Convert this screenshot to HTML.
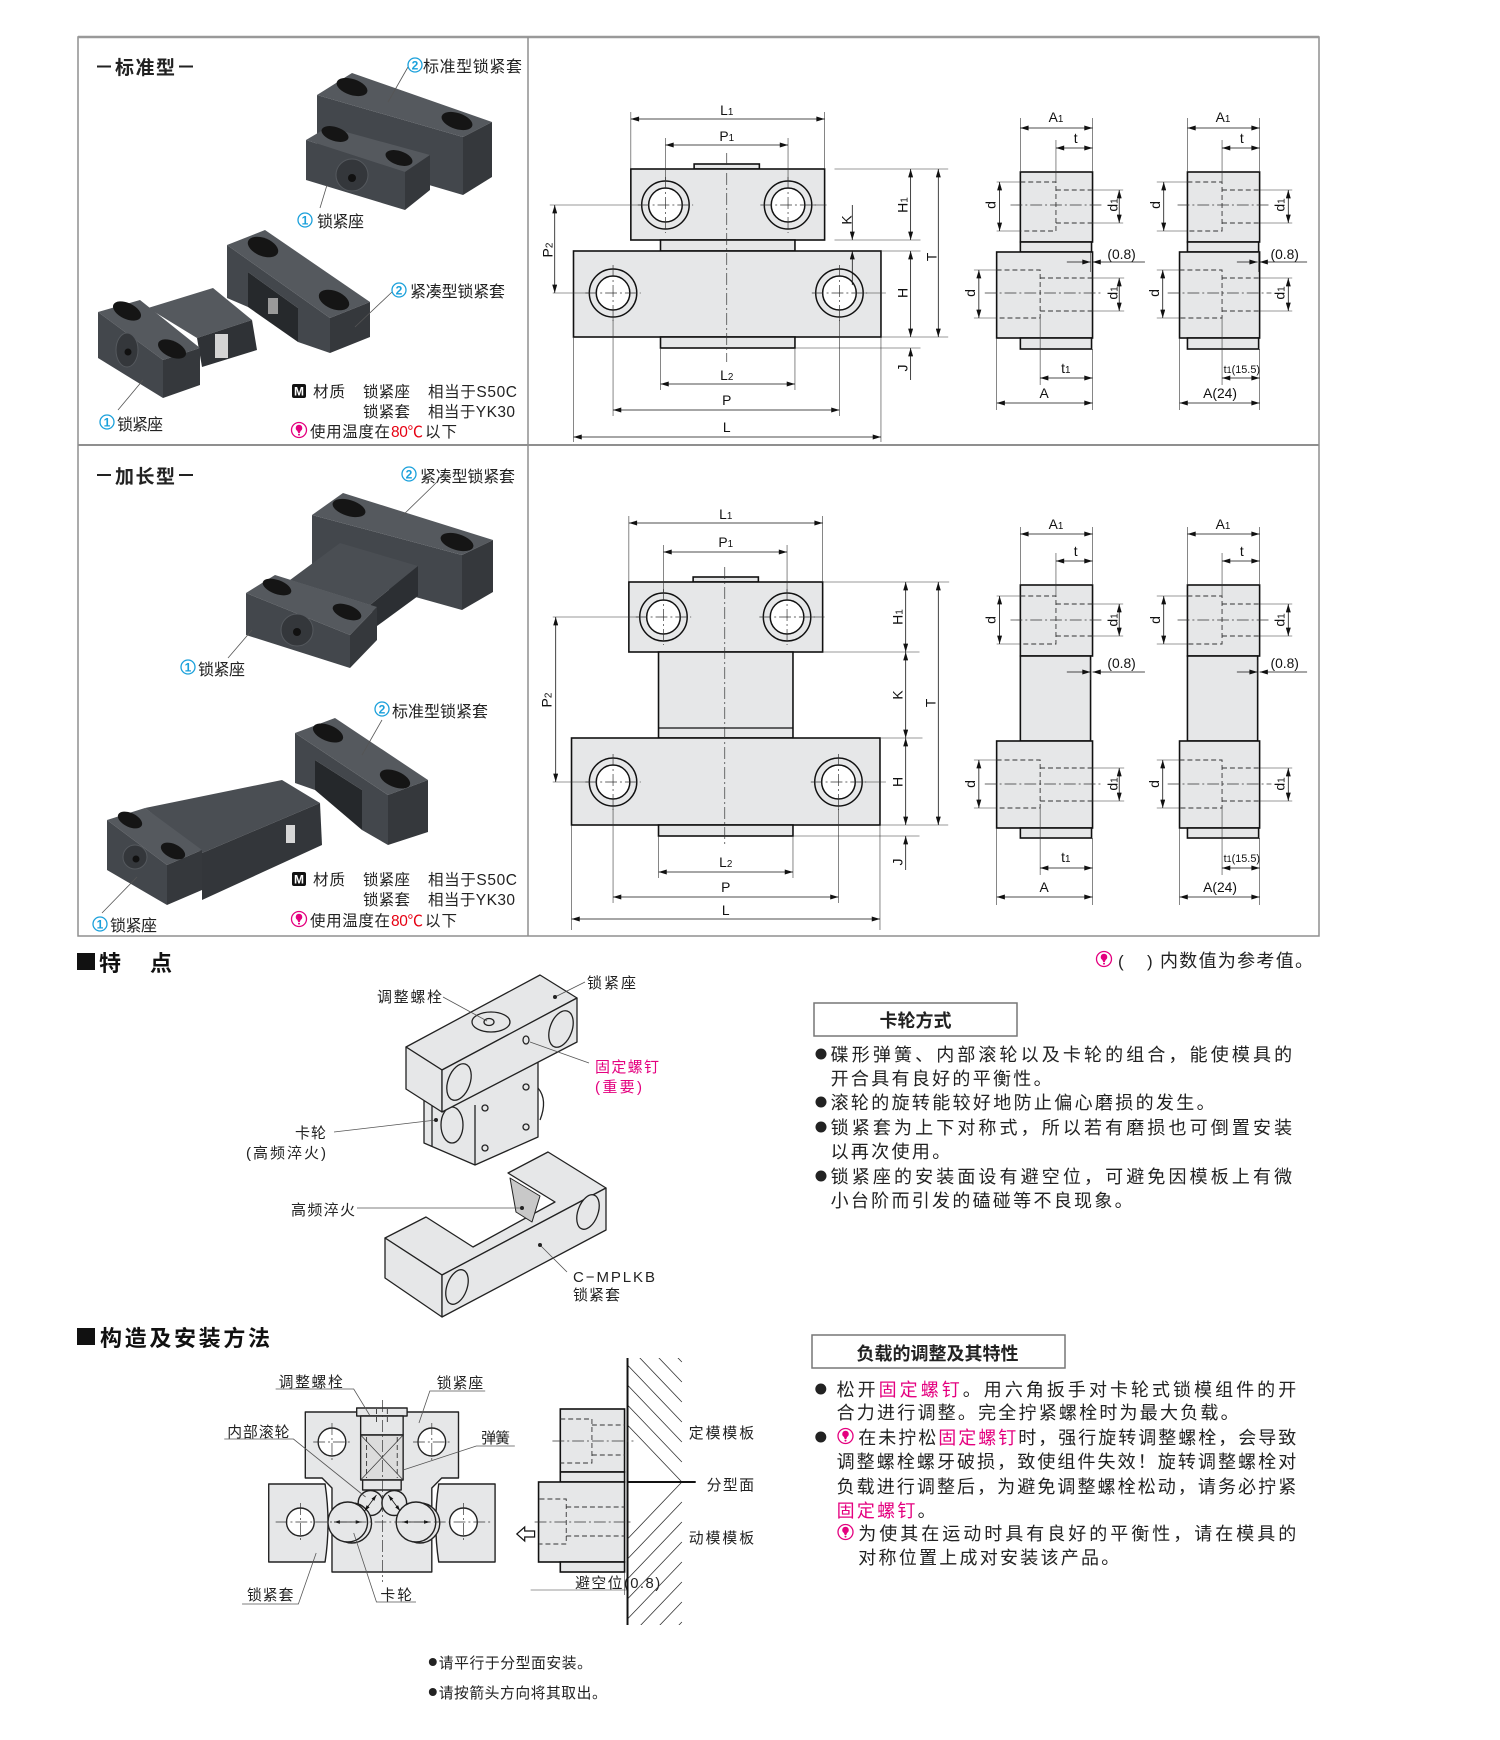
<!DOCTYPE html>
<html><head><meta charset="utf-8">
<style>
html,body{margin:0;padding:0;background:#fff;}
body{width:1500px;height:1740px;overflow:hidden;}
svg{display:block;}
.f{font-family:"Liberation Sans","Noto Sans CJK SC",sans-serif;}
.lb{font-family:"Liberation Sans",sans-serif;font-size:14px;fill:#111;}
.o{fill:#e6e7e8;stroke:#111;stroke-width:1.6;}
.d{stroke:#111;stroke-width:0.8;fill:none;}
.e{stroke:#333;stroke-width:0.6;fill:none;}
.c{stroke:#333;stroke-width:0.7;stroke-dasharray:12 3 2 3;fill:none;}
.h{stroke:#333;stroke-width:0.9;stroke-dasharray:5 3;fill:none;}
.ld{stroke:#555;stroke-width:0.8;fill:none;}
.pt{fill:#55595e;}
.pf{fill:#43474c;}
.pr{fill:#35383c;}
.ph{fill:#151515;}
</style></head>
<body>
<svg width="1500" height="1740" viewBox="0 0 1500 1740" xmlns="http://www.w3.org/2000/svg">
<defs>
<marker id="ar" viewBox="0 0 10 6" refX="10" refY="3" markerWidth="9" markerHeight="5" orient="auto-start-reverse" markerUnits="userSpaceOnUse"><path d="M0,0 L10,3 L0,6z" fill="#111"/></marker>
<marker id="as" viewBox="0 0 10 6" refX="10" refY="3" markerWidth="6" markerHeight="4" orient="auto-start-reverse" markerUnits="userSpaceOnUse"><path d="M0,0 L10,3 L0,6z" fill="#111"/></marker>
<g id="hole"><circle r="24" fill="#e6e7e8" stroke="#111" stroke-width="1.5"/><circle r="17" fill="#fff" stroke="#111" stroke-width="1.5"/><line x1="-28" y1="0" x2="28" y2="0" class="c"/><line x1="0" y1="-28" x2="0" y2="28" class="c"/></g>
<g id="wi"><circle r="7.5" fill="#fff" stroke="#e4007f" stroke-width="1.3"/><circle cy="-2" r="3.3" fill="#e4007f"/><path d="M-2.2,-0.5 L2.2,-0.5 L0.8,3 L-0.8,3Z" fill="#e4007f"/><circle cy="4.6" r="1" fill="#e4007f"/></g>
<g id="n1"><circle r="7" fill="#fff" stroke="#1aa0db" stroke-width="1.3"/><text y="4.5" text-anchor="middle" font-family="Liberation Sans" font-size="12" font-weight="bold" fill="#1aa0db">1</text></g>
<g id="n2"><circle r="7" fill="#fff" stroke="#1aa0db" stroke-width="1.3"/><text y="4.5" text-anchor="middle" font-family="Liberation Sans" font-size="12" font-weight="bold" fill="#1aa0db">2</text></g>
<g id="mi"><rect x="0" y="0" width="14" height="14" rx="2" fill="#111"/><text x="7" y="11.5" text-anchor="middle" font-family="Liberation Sans" font-size="12" font-weight="bold" fill="#fff">M</text></g>
<clipPath id="cu"><rect x="635" y="1358" width="55" height="124"/></clipPath>
<clipPath id="cl"><rect x="635" y="1482" width="55" height="143"/></clipPath>
</defs>

<!-- ============ TABLE ============ -->
<rect x="78" y="37" width="1241" height="899" fill="none" stroke="#8f8f8f" stroke-width="1.5"/>
<line x1="78" y1="37" x2="1319" y2="37" stroke="#999" stroke-width="2.5"/>
<line x1="528" y1="37" x2="528" y2="936" stroke="#8f8f8f" stroke-width="1.5"/>
<line x1="78" y1="445" x2="1319" y2="445" stroke="#8f8f8f" stroke-width="2"/>

<!-- ============ ROW 1 LEFT ============ -->
<line x1="97" y1="66.5" x2="111" y2="66.5" stroke="#222" stroke-width="2"/>
<line x1="179" y1="66.5" x2="193" y2="66.5" stroke="#222" stroke-width="2"/>
<text class="f" x="115" y="74" font-size="19" font-weight="bold" fill="#222" textLength="60" lengthAdjust="spacing">标准型</text>

<polygon class="pf" points="317,95 463,137 463,195 317,152"/>
<polygon class="pt" points="317,95 352,73 492,122 463,137"/>
<polygon class="pr" points="463,137 492,122 492,177 463,195"/>
<ellipse cx="352" cy="87" rx="16" ry="8" class="ph" transform="rotate(18 352 87)"/>
<ellipse cx="457" cy="121" rx="16" ry="8" class="ph" transform="rotate(18 457 121)"/>
<polygon class="pt" points="306,140 328,127 430,155 405,172"/>
<polygon class="pf" points="306,140 405,172 405,210 306,180"/>
<polygon class="pr" points="405,172 430,155 430,190 405,210"/>
<ellipse cx="335" cy="134" rx="14" ry="7" class="ph" transform="rotate(18 335 134)"/>
<ellipse cx="399" cy="158" rx="14" ry="7" class="ph" transform="rotate(18 399 158)"/>
<circle cx="352" cy="175" r="16" fill="#34373b" stroke="#55595e" stroke-width="1"/>
<circle cx="352" cy="178" r="4" fill="#111"/>
<line x1="408" y1="67" x2="388" y2="102" class="ld"/>
<line x1="320" y1="208" x2="327" y2="185" class="ld"/>
<use href="#n2" x="415" y="65"/>
<text class="f" x="423" y="72" font-size="16" fill="#222" textLength="99" lengthAdjust="spacing">标准型锁紧套</text>
<use href="#n1" x="305" y="220"/>
<text class="f" x="317" y="227" font-size="16" fill="#222" textLength="47" lengthAdjust="spacing">锁紧座</text>

<!-- lower photo row1: U block -->
<polygon class="pf" points="227,245 330,318 330,353 298,342 298,308 248,272 248,307 227,298"/>
<polygon fill="#26292c" points="248,272 298,308 298,342 248,307"/>
<rect x="268" y="298" width="10" height="16" fill="#9a9a9a"/>
<polygon class="pt" points="227,245 265,230 370,302 330,318"/>
<polygon class="pr" points="330,318 370,302 370,337 330,353"/>
<ellipse cx="263" cy="247" rx="16" ry="9" class="ph" transform="rotate(22 263 247)"/>
<ellipse cx="334" cy="300" rx="16" ry="9" class="ph" transform="rotate(22 334 300)"/>
<!-- housing -->
<polygon class="pt" points="148,308 213,288 252,320 197,338"/>
<polygon fill="#2f3236" points="197,338 252,320 257,350 202,367"/>
<rect x="215" y="334" width="13" height="24" fill="#d4d4d4"/>
<!-- cube -->
<polygon class="pt" points="98,312 140,300 200,348 163,360"/>
<polygon class="pf" points="98,312 163,360 163,398 98,358"/>
<polygon class="pr" points="163,360 200,348 200,385 163,398"/>
<ellipse cx="127" cy="311" rx="15" ry="8" class="ph" transform="rotate(25 127 311)"/>
<ellipse cx="172" cy="349" rx="15" ry="8" class="ph" transform="rotate(25 172 349)"/>
<ellipse cx="127" cy="350" rx="11" ry="17" fill="#34373b" stroke="#55595e" stroke-width="1"/>
<circle cx="128" cy="352" r="3.5" fill="#111"/>
<line x1="392" y1="292" x2="355" y2="327" class="ld"/>
<line x1="118" y1="410" x2="143" y2="380" class="ld"/>
<use href="#n2" x="399" y="290"/>
<text class="f" x="410" y="297" font-size="16" fill="#222" textLength="95" lengthAdjust="spacing">紧凑型锁紧套</text>
<use href="#n1" x="107" y="422"/>
<text class="f" x="117" y="430" font-size="16" fill="#222" textLength="46" lengthAdjust="spacing">锁紧座</text>

<use href="#mi" x="292" y="384"/>
<g class="f" font-size="15.5" fill="#222">
<text x="313" y="397" textLength="32" lengthAdjust="spacing">材质</text>
<text x="363" y="397" textLength="47" lengthAdjust="spacing">锁紧座</text>
<text x="428" y="397" textLength="89" lengthAdjust="spacing">相当于S50C</text>
<text x="363" y="417" textLength="47" lengthAdjust="spacing">锁紧套</text>
<text x="428" y="417" textLength="87" lengthAdjust="spacing">相当于YK30</text>
<text x="310" y="437" textLength="80" lengthAdjust="spacing">使用温度在</text>
<text x="391" y="437" fill="#e60012" textLength="32" lengthAdjust="spacing">80℃</text>
<text x="425" y="437" textLength="32" lengthAdjust="spacing">以下</text>
</g>
<use href="#wi" x="299" y="430"/>

<!-- ============ RIGHT DRAWINGS (scaled) ============ -->
<g transform="matrix(0.98864,0,0,1,6.02,0)">
<!-- ROW 1 -->
<rect class="o" x="696" y="164" width="66" height="5"/>
<rect class="o" x="632" y="169" width="196" height="71"/>
<rect class="o" x="662" y="240" width="136" height="11"/>
<rect class="o" x="574" y="251" width="311" height="86"/>
<rect class="o" x="662" y="337" width="136" height="11"/>
<use href="#hole" x="667" y="205"/>
<use href="#hole" x="791" y="205"/>
<use href="#hole" x="614" y="293"/>
<use href="#hole" x="843" y="293"/>
<line class="c" x1="729" y1="153" x2="729" y2="362"/>
<g class="e">
<line x1="632" y1="112" x2="632" y2="169"/><line x1="828" y1="112" x2="828" y2="169"/>
<line x1="667" y1="138" x2="667" y2="181"/><line x1="791" y1="138" x2="791" y2="181"/>
<line x1="838" y1="169" x2="953" y2="169"/><line x1="838" y1="240" x2="925" y2="240"/>
<line x1="885" y1="251" x2="925" y2="251"/><line x1="885" y1="337" x2="953" y2="337"/>
<line x1="798" y1="348" x2="925" y2="348"/>
<line x1="574" y1="337" x2="574" y2="442"/><line x1="885" y1="337" x2="885" y2="442"/>
<line x1="614" y1="317" x2="614" y2="416"/><line x1="843" y1="317" x2="843" y2="416"/>
<line x1="662" y1="348" x2="662" y2="390"/><line x1="798" y1="348" x2="798" y2="390"/>
<line x1="550" y1="205" x2="643" y2="205"/><line x1="553" y1="293" x2="590" y2="293"/>
<line x1="815" y1="205" x2="830" y2="205"/><line x1="867" y1="293" x2="890" y2="293"/>
</g>
<g class="d">
<line x1="632" y1="119" x2="828" y2="119" marker-start="url(#ar)" marker-end="url(#ar)"/>
<line x1="667" y1="145" x2="791" y2="145" marker-start="url(#ar)" marker-end="url(#ar)"/>
<line x1="662" y1="384" x2="798" y2="384" marker-start="url(#ar)" marker-end="url(#ar)"/>
<line x1="614" y1="410" x2="843" y2="410" marker-start="url(#ar)" marker-end="url(#ar)"/>
<line x1="574" y1="437" x2="885" y2="437" marker-start="url(#ar)" marker-end="url(#ar)"/>
<line x1="555" y1="205" x2="555" y2="293" marker-start="url(#ar)" marker-end="url(#ar)"/>
<line x1="915" y1="169" x2="915" y2="240" marker-start="url(#ar)" marker-end="url(#ar)"/>
<line x1="943" y1="169" x2="943" y2="337" marker-start="url(#ar)" marker-end="url(#ar)"/>
<line x1="856" y1="205" x2="856" y2="240" marker-end="url(#ar)"/>
<line x1="856" y1="251" x2="856" y2="285" marker-start="url(#ar)"/>
<line x1="915" y1="251" x2="915" y2="337" marker-start="url(#ar)" marker-end="url(#ar)"/>
<line x1="915" y1="348" x2="915" y2="380" marker-start="url(#ar)"/>
</g>
<g class="lb" text-anchor="middle">
<text x="729" y="115">L<tspan font-size="10">1</tspan></text>
<text x="729" y="141">P<tspan font-size="10">1</tspan></text>
<text x="729" y="380">L<tspan font-size="10">2</tspan></text>
<text x="729" y="405">P</text>
<text x="729" y="432">L</text>
<text transform="translate(553,250) rotate(-90)">P<tspan font-size="10">2</tspan></text>
<text transform="translate(912,205) rotate(-90)">H<tspan font-size="10">1</tspan></text>
<text transform="translate(941,257) rotate(-90)">T</text>
<text transform="translate(855,220) rotate(-90)">K</text>
<text transform="translate(912,293) rotate(-90)">H</text>
<text transform="translate(912,368) rotate(-90)">J</text>
</g>

<rect class="o" x="1026" y="172" width="73" height="70"/>
<rect class="o" x="1026" y="242" width="72" height="10"/>
<rect class="o" x="1002" y="252" width="97" height="86"/>
<rect class="o" x="1026" y="338" width="72" height="11"/>
<path class="h" d="M1026,182 H1062 V231 H1026 M1062,190 H1099 M1062,223 H1099 M1002,270 H1046 V318 H1002 M1046,278 H1099 M1046,311 H1099"/>
<line class="c" x1="1016" y1="205" x2="1110" y2="205"/><line class="c" x1="990" y1="293" x2="1110" y2="293"/>
<g class="e">
<line x1="1002" y1="182" x2="1026" y2="182"/><line x1="1002" y1="231" x2="1026" y2="231"/>
<line x1="1099" y1="190" x2="1130" y2="190"/><line x1="1099" y1="223" x2="1130" y2="223"/>
<line x1="979" y1="270" x2="1002" y2="270"/><line x1="979" y1="318" x2="1002" y2="318"/>
<line x1="1099" y1="278" x2="1131" y2="278"/><line x1="1099" y1="311" x2="1131" y2="311"/>
<line x1="1026" y1="118" x2="1026" y2="172"/><line x1="1099" y1="118" x2="1099" y2="172"/>
<line x1="1062" y1="140" x2="1062" y2="182"/>
<line x1="1097" y1="252" x2="1097" y2="272"/>
<line x1="1002" y1="338" x2="1002" y2="410"/><line x1="1046" y1="318" x2="1046" y2="385"/><line x1="1099" y1="349" x2="1099" y2="410"/>
</g>
<g class="d">
<line x1="1005" y1="182" x2="1005" y2="231" marker-start="url(#ar)" marker-end="url(#ar)"/>
<line x1="1126" y1="190" x2="1126" y2="223" marker-start="url(#ar)" marker-end="url(#ar)"/>
<line x1="984" y1="270" x2="984" y2="318" marker-start="url(#ar)" marker-end="url(#ar)"/>
<line x1="1126" y1="278" x2="1126" y2="311" marker-start="url(#ar)" marker-end="url(#ar)"/>
<line x1="1026" y1="128" x2="1099" y2="128" marker-start="url(#ar)" marker-end="url(#ar)"/>
<line x1="1062" y1="148" x2="1099" y2="148" marker-start="url(#ar)" marker-end="url(#ar)"/>
<line x1="1152" y1="262" x2="1099" y2="262" marker-end="url(#ar)"/>
<line x1="1073" y1="262" x2="1097" y2="262" marker-end="url(#ar)"/>
<line x1="1046" y1="378" x2="1099" y2="378" marker-start="url(#ar)" marker-end="url(#ar)"/>
<line x1="1002" y1="403" x2="1099" y2="403" marker-start="url(#ar)" marker-end="url(#ar)"/>
</g>
<rect class="o" x="1195" y="172" width="73" height="70"/>
<rect class="o" x="1195" y="242" width="72" height="10"/>
<rect class="o" x="1187" y="252" width="81" height="86"/>
<rect class="o" x="1195" y="338" width="72" height="11"/>
<path class="h" d="M1195,182 H1230 V231 H1195 M1230,190 H1268 M1230,223 H1268 M1187,270 H1230 V318 H1187 M1230,278 H1268 M1230,311 H1268"/>
<line class="c" x1="1185" y1="205" x2="1280" y2="205"/><line class="c" x1="1175" y1="293" x2="1280" y2="293"/>
<g class="e">
<line x1="1164" y1="182" x2="1195" y2="182"/><line x1="1164" y1="231" x2="1195" y2="231"/>
<line x1="1268" y1="190" x2="1301" y2="190"/><line x1="1268" y1="223" x2="1301" y2="223"/>
<line x1="1164" y1="270" x2="1187" y2="270"/><line x1="1164" y1="318" x2="1187" y2="318"/>
<line x1="1268" y1="278" x2="1301" y2="278"/><line x1="1268" y1="311" x2="1301" y2="311"/>
<line x1="1195" y1="118" x2="1195" y2="172"/><line x1="1268" y1="118" x2="1268" y2="172"/>
<line x1="1230" y1="140" x2="1230" y2="182"/>
<line x1="1267" y1="252" x2="1267" y2="272"/>
<line x1="1187" y1="338" x2="1187" y2="410"/><line x1="1230" y1="318" x2="1230" y2="385"/><line x1="1268" y1="349" x2="1268" y2="410"/>
</g>
<g class="d">
<line x1="1171" y1="182" x2="1171" y2="231" marker-start="url(#ar)" marker-end="url(#ar)"/>
<line x1="1297" y1="190" x2="1297" y2="223" marker-start="url(#ar)" marker-end="url(#ar)"/>
<line x1="1170" y1="270" x2="1170" y2="318" marker-start="url(#ar)" marker-end="url(#ar)"/>
<line x1="1297" y1="278" x2="1297" y2="311" marker-start="url(#ar)" marker-end="url(#ar)"/>
<line x1="1195" y1="128" x2="1268" y2="128" marker-start="url(#ar)" marker-end="url(#ar)"/>
<line x1="1230" y1="148" x2="1268" y2="148" marker-start="url(#ar)" marker-end="url(#ar)"/>
<line x1="1316" y1="262" x2="1268" y2="262" marker-end="url(#ar)"/>
<line x1="1245" y1="262" x2="1266" y2="262" marker-end="url(#ar)"/>
<line x1="1230" y1="378" x2="1268" y2="378" marker-start="url(#ar)" marker-end="url(#ar)"/>
<line x1="1187" y1="403" x2="1268" y2="403" marker-start="url(#ar)" marker-end="url(#ar)"/>
</g>
<g class="lb" text-anchor="middle">
<text x="1062" y="122">A<tspan font-size="10">1</tspan></text>
<text x="1082" y="143">t</text>
<text x="1072" y="373">t<tspan font-size="10">1</tspan></text>
<text x="1050" y="398">A</text>
<text x="1231" y="122">A<tspan font-size="10">1</tspan></text>
<text x="1250" y="143">t</text>
<text x="1250" y="373" font-size="11">t<tspan font-size="9">1</tspan>(15.5)</text>
<text x="1228" y="398">A(24)</text>
<text transform="translate(1001,205) rotate(-90)">d</text>
<text transform="translate(1124,205) rotate(-90)">d<tspan font-size="10">1</tspan></text>
<text transform="translate(980,293) rotate(-90)">d</text>
<text transform="translate(1124,293) rotate(-90)">d<tspan font-size="10">1</tspan></text>
<text transform="translate(1167,205) rotate(-90)">d</text>
<text transform="translate(1293,205) rotate(-90)">d<tspan font-size="10">1</tspan></text>
<text transform="translate(1166,293) rotate(-90)">d</text>
<text transform="translate(1293,293) rotate(-90)">d<tspan font-size="10">1</tspan></text>
</g>
<text class="lb" x="1114" y="259">(0.8)</text>
<text class="lb" x="1279" y="259">(0.8)</text>

<!-- ROW 2 -->
<rect class="o" x="695" y="577" width="66" height="5"/>
<rect class="o" x="630" y="582" width="196" height="70"/>
<rect class="o" x="660" y="652" width="136" height="86"/>
<line x1="660" y1="728" x2="796" y2="728" stroke="#111" stroke-width="1.2"/>
<rect class="o" x="572" y="738" width="312" height="87"/>
<rect class="o" x="660" y="825" width="136" height="11"/>
<use href="#hole" x="665" y="617"/>
<use href="#hole" x="790" y="617"/>
<use href="#hole" x="614" y="782"/>
<use href="#hole" x="842" y="782"/>
<line class="c" x1="727" y1="567" x2="727" y2="844"/>
<g class="e">
<line x1="630" y1="516" x2="630" y2="582"/><line x1="826" y1="516" x2="826" y2="582"/>
<line x1="665" y1="545" x2="665" y2="593"/><line x1="790" y1="545" x2="790" y2="593"/>
<line x1="826" y1="582" x2="954" y2="582"/><line x1="826" y1="652" x2="924" y2="652"/>
<line x1="884" y1="738" x2="927" y2="738"/><line x1="884" y1="825" x2="953" y2="825"/>
<line x1="796" y1="836" x2="924" y2="836"/>
<line x1="572" y1="825" x2="572" y2="930"/><line x1="884" y1="825" x2="884" y2="930"/>
<line x1="614" y1="806" x2="614" y2="903"/><line x1="842" y1="806" x2="842" y2="903"/>
<line x1="660" y1="836" x2="660" y2="878"/><line x1="796" y1="836" x2="796" y2="878"/>
<line x1="553" y1="617" x2="641" y2="617"/><line x1="553" y1="782" x2="590" y2="782"/>
<line x1="814" y1="617" x2="828" y2="617"/><line x1="866" y1="782" x2="890" y2="782"/>
</g>
<g class="d">
<line x1="630" y1="523" x2="826" y2="523" marker-start="url(#ar)" marker-end="url(#ar)"/>
<line x1="665" y1="552" x2="790" y2="552" marker-start="url(#ar)" marker-end="url(#ar)"/>
<line x1="660" y1="872" x2="796" y2="872" marker-start="url(#ar)" marker-end="url(#ar)"/>
<line x1="614" y1="897" x2="842" y2="897" marker-start="url(#ar)" marker-end="url(#ar)"/>
<line x1="572" y1="919" x2="884" y2="919" marker-start="url(#ar)" marker-end="url(#ar)"/>
<line x1="556" y1="617" x2="556" y2="782" marker-start="url(#ar)" marker-end="url(#ar)"/>
<line x1="910" y1="582" x2="910" y2="652" marker-start="url(#ar)" marker-end="url(#ar)"/>
<line x1="910" y1="652" x2="910" y2="738" marker-start="url(#ar)" marker-end="url(#ar)"/>
<line x1="910" y1="738" x2="910" y2="825" marker-start="url(#ar)" marker-end="url(#ar)"/>
<line x1="910" y1="836" x2="910" y2="870" marker-start="url(#ar)"/>
<line x1="943" y1="582" x2="943" y2="825" marker-start="url(#ar)" marker-end="url(#ar)"/>
</g>
<g class="lb" text-anchor="middle">
<text x="728" y="519">L<tspan font-size="10">1</tspan></text>
<text x="728" y="547">P<tspan font-size="10">1</tspan></text>
<text x="728" y="867">L<tspan font-size="10">2</tspan></text>
<text x="728" y="892">P</text>
<text x="728" y="915">L</text>
<text transform="translate(552,700) rotate(-90)">P<tspan font-size="10">2</tspan></text>
<text transform="translate(907,617) rotate(-90)">H<tspan font-size="10">1</tspan></text>
<text transform="translate(907,695) rotate(-90)">K</text>
<text transform="translate(907,782) rotate(-90)">H</text>
<text transform="translate(907,862) rotate(-90)">J</text>
<text transform="translate(940,703) rotate(-90)">T</text>
</g>

<rect class="o" x="1026" y="585" width="73" height="71"/>
<rect class="o" x="1026" y="656" width="71" height="85"/>
<rect class="o" x="1002" y="741" width="97" height="87"/>
<rect class="o" x="1026" y="828" width="72" height="10"/>
<path class="h" d="M1026,596 H1062 V644 H1026 M1062,604 H1099 M1062,636 H1099 M1002,760 H1046 V808 H1002 M1046,768 H1099 M1046,801 H1099"/>
<line class="c" x1="1016" y1="620" x2="1110" y2="620"/><line class="c" x1="990" y1="784" x2="1110" y2="784"/>
<g class="e">
<line x1="1002" y1="596" x2="1026" y2="596"/><line x1="1002" y1="644" x2="1026" y2="644"/>
<line x1="1099" y1="604" x2="1130" y2="604"/><line x1="1099" y1="636" x2="1130" y2="636"/>
<line x1="979" y1="760" x2="1002" y2="760"/><line x1="979" y1="808" x2="1002" y2="808"/>
<line x1="1099" y1="768" x2="1131" y2="768"/><line x1="1099" y1="801" x2="1131" y2="801"/>
<line x1="1026" y1="527" x2="1026" y2="585"/><line x1="1099" y1="527" x2="1099" y2="585"/>
<line x1="1062" y1="553" x2="1062" y2="596"/>
<line x1="1097" y1="660" x2="1097" y2="680"/>
<line x1="1002" y1="828" x2="1002" y2="905"/><line x1="1046" y1="808" x2="1046" y2="875"/><line x1="1099" y1="838" x2="1099" y2="905"/>
</g>
<g class="d">
<line x1="1005" y1="596" x2="1005" y2="644" marker-start="url(#ar)" marker-end="url(#ar)"/>
<line x1="1126" y1="604" x2="1126" y2="636" marker-start="url(#ar)" marker-end="url(#ar)"/>
<line x1="984" y1="760" x2="984" y2="808" marker-start="url(#ar)" marker-end="url(#ar)"/>
<line x1="1126" y1="768" x2="1126" y2="801" marker-start="url(#ar)" marker-end="url(#ar)"/>
<line x1="1026" y1="534" x2="1099" y2="534" marker-start="url(#ar)" marker-end="url(#ar)"/>
<line x1="1062" y1="561" x2="1099" y2="561" marker-start="url(#ar)" marker-end="url(#ar)"/>
<line x1="1152" y1="672" x2="1099" y2="672" marker-end="url(#ar)"/>
<line x1="1073" y1="672" x2="1097" y2="672" marker-end="url(#ar)"/>
<line x1="1046" y1="868" x2="1099" y2="868" marker-start="url(#ar)" marker-end="url(#ar)"/>
<line x1="1002" y1="897" x2="1099" y2="897" marker-start="url(#ar)" marker-end="url(#ar)"/>
</g>
<rect class="o" x="1195" y="585" width="73" height="71"/>
<rect class="o" x="1195" y="656" width="71" height="85"/>
<rect class="o" x="1187" y="741" width="81" height="87"/>
<rect class="o" x="1195" y="828" width="72" height="10"/>
<path class="h" d="M1195,596 H1230 V644 H1195 M1230,604 H1268 M1230,636 H1268 M1187,760 H1230 V808 H1187 M1230,768 H1268 M1230,801 H1268"/>
<line class="c" x1="1185" y1="620" x2="1280" y2="620"/><line class="c" x1="1175" y1="784" x2="1280" y2="784"/>
<g class="e">
<line x1="1164" y1="596" x2="1195" y2="596"/><line x1="1164" y1="644" x2="1195" y2="644"/>
<line x1="1268" y1="604" x2="1301" y2="604"/><line x1="1268" y1="636" x2="1301" y2="636"/>
<line x1="1164" y1="760" x2="1187" y2="760"/><line x1="1164" y1="808" x2="1187" y2="808"/>
<line x1="1268" y1="768" x2="1301" y2="768"/><line x1="1268" y1="801" x2="1301" y2="801"/>
<line x1="1195" y1="527" x2="1195" y2="585"/><line x1="1268" y1="527" x2="1268" y2="585"/>
<line x1="1230" y1="553" x2="1230" y2="596"/>
<line x1="1266" y1="660" x2="1266" y2="680"/>
<line x1="1187" y1="828" x2="1187" y2="905"/><line x1="1230" y1="808" x2="1230" y2="875"/><line x1="1268" y1="838" x2="1268" y2="905"/>
</g>
<g class="d">
<line x1="1171" y1="596" x2="1171" y2="644" marker-start="url(#ar)" marker-end="url(#ar)"/>
<line x1="1297" y1="604" x2="1297" y2="636" marker-start="url(#ar)" marker-end="url(#ar)"/>
<line x1="1170" y1="760" x2="1170" y2="808" marker-start="url(#ar)" marker-end="url(#ar)"/>
<line x1="1297" y1="768" x2="1297" y2="801" marker-start="url(#ar)" marker-end="url(#ar)"/>
<line x1="1195" y1="534" x2="1268" y2="534" marker-start="url(#ar)" marker-end="url(#ar)"/>
<line x1="1230" y1="561" x2="1268" y2="561" marker-start="url(#ar)" marker-end="url(#ar)"/>
<line x1="1316" y1="672" x2="1268" y2="672" marker-end="url(#ar)"/>
<line x1="1245" y1="672" x2="1266" y2="672" marker-end="url(#ar)"/>
<line x1="1230" y1="868" x2="1268" y2="868" marker-start="url(#ar)" marker-end="url(#ar)"/>
<line x1="1187" y1="897" x2="1268" y2="897" marker-start="url(#ar)" marker-end="url(#ar)"/>
</g>
<g class="lb" text-anchor="middle">
<text x="1062" y="529">A<tspan font-size="10">1</tspan></text>
<text x="1082" y="556">t</text>
<text x="1072" y="862">t<tspan font-size="10">1</tspan></text>
<text x="1050" y="892">A</text>
<text x="1231" y="529">A<tspan font-size="10">1</tspan></text>
<text x="1250" y="556">t</text>
<text x="1250" y="862" font-size="11">t<tspan font-size="9">1</tspan>(15.5)</text>
<text x="1228" y="892">A(24)</text>
<text transform="translate(1001,620) rotate(-90)">d</text>
<text transform="translate(1124,620) rotate(-90)">d<tspan font-size="10">1</tspan></text>
<text transform="translate(980,784) rotate(-90)">d</text>
<text transform="translate(1124,784) rotate(-90)">d<tspan font-size="10">1</tspan></text>
<text transform="translate(1167,620) rotate(-90)">d</text>
<text transform="translate(1293,620) rotate(-90)">d<tspan font-size="10">1</tspan></text>
<text transform="translate(1166,784) rotate(-90)">d</text>
<text transform="translate(1293,784) rotate(-90)">d<tspan font-size="10">1</tspan></text>
</g>
<text class="lb" x="1114" y="668">(0.8)</text>
<text class="lb" x="1279" y="668">(0.8)</text>
</g>

<!-- ============ ROW 2 LEFT ============ -->
<line x1="97" y1="475" x2="111" y2="475" stroke="#222" stroke-width="2"/>
<line x1="179" y1="475" x2="193" y2="475" stroke="#222" stroke-width="2"/>
<text class="f" x="115" y="483" font-size="19" font-weight="bold" fill="#222" textLength="60" lengthAdjust="spacing">加长型</text>

<polygon class="pf" points="312,515 462,555 462,610 312,568"/>
<polygon class="pt" points="312,515 343,493 493,540 462,555"/>
<polygon class="pr" points="462,555 493,540 493,592 462,610"/>
<ellipse cx="349" cy="508" rx="17" ry="8" class="ph" transform="rotate(17 349 508)"/>
<ellipse cx="457" cy="542" rx="17" ry="8" class="ph" transform="rotate(17 457 542)"/>
<polygon fill="#4a4e53" points="290,580 340,543 418,566 370,605"/>
<polygon fill="#2c2f33" points="370,605 418,566 418,596 377,626"/>
<polygon class="pt" points="246,593 275,575 377,607 350,635"/>
<polygon class="pf" points="246,593 350,635 350,668 246,635"/>
<polygon class="pr" points="350,635 377,607 377,640 350,668"/>
<ellipse cx="277" cy="587" rx="15" ry="7" class="ph" transform="rotate(20 277 587)"/>
<ellipse cx="347" cy="612" rx="15" ry="7" class="ph" transform="rotate(20 347 612)"/>
<circle cx="297" cy="630" r="16" fill="#34373b" stroke="#55595e" stroke-width="1"/>
<circle cx="297" cy="632" r="4" fill="#111"/>
<line x1="437" y1="482" x2="400" y2="518" class="ld"/>
<line x1="228" y1="658" x2="252" y2="630" class="ld"/>
<use href="#n2" x="409" y="474"/>
<text class="f" x="420" y="482" font-size="16" fill="#222" textLength="95" lengthAdjust="spacing">紧凑型锁紧套</text>
<use href="#n1" x="188" y="667"/>
<text class="f" x="198" y="675" font-size="16" fill="#222" textLength="47" lengthAdjust="spacing">锁紧座</text>

<polygon class="pf" points="295,733 388,795 388,845 362,830 362,790 315,760 315,790 295,783"/>
<polygon fill="#25282b" points="315,760 362,790 362,830 315,790"/>
<polygon class="pt" points="295,733 335,718 428,780 388,795"/>
<polygon class="pr" points="388,795 428,780 428,832 388,845"/>
<ellipse cx="328" cy="733" rx="16" ry="8" class="ph" transform="rotate(22 328 733)"/>
<ellipse cx="395" cy="779" rx="16" ry="8" class="ph" transform="rotate(22 395 779)"/>
<polygon fill="#4a4e53" points="145,808 282,780 320,803 202,853"/>
<polygon fill="#33363a" points="202,853 320,803 322,845 202,900"/>
<rect x="286" y="825" width="9" height="18" fill="#d6d6d6"/>
<polygon class="pt" points="107,820 145,808 202,850 167,865"/>
<polygon class="pf" points="107,820 167,865 167,905 107,870"/>
<polygon class="pr" points="167,865 202,850 202,890 167,905"/>
<ellipse cx="130" cy="820" rx="13" ry="7" class="ph" transform="rotate(25 130 820)"/>
<ellipse cx="173" cy="851" rx="13" ry="7" class="ph" transform="rotate(25 173 851)"/>
<circle cx="135" cy="857" r="12" fill="#34373b" stroke="#55595e" stroke-width="1"/>
<circle cx="136" cy="859" r="3.5" fill="#111"/>
<line x1="382" y1="720" x2="362" y2="755" class="ld"/>
<line x1="102" y1="913" x2="137" y2="877" class="ld"/>
<use href="#n2" x="382" y="709"/>
<text class="f" x="392" y="717" font-size="16" fill="#222" textLength="96" lengthAdjust="spacing">标准型锁紧套</text>
<use href="#n1" x="100" y="924"/>
<text class="f" x="110" y="931" font-size="16" fill="#222" textLength="47" lengthAdjust="spacing">锁紧座</text>

<use href="#mi" x="292" y="872"/>
<g class="f" font-size="15.5" fill="#222">
<text x="313" y="885" textLength="32" lengthAdjust="spacing">材质</text>
<text x="363" y="885" textLength="47" lengthAdjust="spacing">锁紧座</text>
<text x="428" y="885" textLength="89" lengthAdjust="spacing">相当于S50C</text>
<text x="363" y="905" textLength="47" lengthAdjust="spacing">锁紧套</text>
<text x="428" y="905" textLength="87" lengthAdjust="spacing">相当于YK30</text>
<text x="310" y="926" textLength="80" lengthAdjust="spacing">使用温度在</text>
<text x="391" y="926" fill="#e60012" textLength="32" lengthAdjust="spacing">80℃</text>
<text x="425" y="926" textLength="32" lengthAdjust="spacing">以下</text>
</g>
<use href="#wi" x="299" y="919"/>

<!-- ============ FEATURES ============ -->
<rect x="77" y="953" width="18" height="17" fill="#111"/>
<text class="f" x="99" y="971" font-size="22" font-weight="bold" fill="#111">特</text>
<text class="f" x="150" y="971" font-size="22" font-weight="bold" fill="#111">点</text>

<use href="#wi" x="1104" y="959"/>
<text class="f" x="1118" y="967" font-size="17" fill="#222">(</text>
<text class="f" x="1147" y="967" font-size="17" fill="#222">)</text>
<text class="f" x="1160" y="967" font-size="18" fill="#222" textLength="153" lengthAdjust="spacing">内数值为参考值。</text>

<g fill="#e6e7e8" stroke="#222" stroke-width="1.3" stroke-linejoin="round">
<polygon points="424,1090 538,1035 538,1137 475,1165 424,1143"/>
<line x1="475" y1="1105" x2="475" y2="1165"/>
<line x1="432" y1="1100" x2="432" y2="1147"/>
<ellipse cx="452" cy="1125" rx="11" ry="18" fill="none"/>
<circle cx="485" cy="1108" r="3"/><circle cx="526" cy="1087" r="3"/><circle cx="526" cy="1127" r="3"/><circle cx="485" cy="1148" r="3"/>
<path d="M538,1088 Q548,1100 540,1120" fill="none"/>
<polygon points="406,1047 540,975 577,998 442,1070"/>
<polygon points="406,1047 442,1070 442,1112 406,1089"/>
<polygon points="442,1070 577,998 577,1042 442,1112"/>
<ellipse cx="491" cy="1022" rx="19" ry="10" fill="none"/>
<ellipse cx="489" cy="1022" rx="5" ry="3.5"/>
<ellipse cx="526" cy="1040" rx="3" ry="4"/>
<ellipse cx="459" cy="1082" rx="11" ry="19" transform="rotate(20 459 1082)"/>
<ellipse cx="561" cy="1029" rx="11" ry="19" transform="rotate(20 561 1029)"/>
<polygon points="385,1238 426,1217 473,1247 555,1202 508,1173 548,1152 606,1188 442,1275"/>
<polygon points="385,1238 442,1275 442,1317 385,1278"/>
<polygon points="442,1275 606,1188 606,1230 442,1317"/>
<polygon points="510,1178 540,1196 532,1222 516,1212" fill="#c8c8c8" stroke-width="1"/>
<ellipse cx="457" cy="1287" rx="10" ry="18" transform="rotate(20 457 1287)"/>
<ellipse cx="588" cy="1212" rx="10" ry="18" transform="rotate(20 588 1212)"/>
</g>
<g class="ld">
<line x1="443" y1="997" x2="487" y2="1021"/>
<line x1="585" y1="982" x2="555" y2="997"/>
<line x1="589" y1="1063" x2="530" y2="1042"/>
<line x1="334" y1="1132" x2="436" y2="1120"/>
<line x1="357" y1="1208" x2="522" y2="1208"/>
<line x1="567" y1="1272" x2="540" y2="1245"/>
</g>
<circle cx="555" cy="997" r="2" fill="#222"/><circle cx="436" cy="1120" r="2" fill="#222"/><circle cx="522" cy="1208" r="2" fill="#222"/><circle cx="540" cy="1245" r="2" fill="#222"/>
<g class="f" font-size="15" fill="#222">
<text x="377" y="1002" textLength="65" lengthAdjust="spacing">调整螺栓</text>
<text x="587" y="988" textLength="49" lengthAdjust="spacing">锁紧座</text>
<text x="595" y="1072" fill="#e4007f" textLength="64" lengthAdjust="spacing">固定螺钉</text>
<text x="595" y="1092" fill="#e4007f" textLength="47" lengthAdjust="spacing">(重要)</text>
<text x="295" y="1138" textLength="31" lengthAdjust="spacing">卡轮</text>
<text x="246" y="1158" textLength="80" lengthAdjust="spacing">(高频淬火)</text>
<text x="291" y="1215" textLength="64" lengthAdjust="spacing">高频淬火</text>
<text x="573" y="1282" textLength="82" lengthAdjust="spacing">C−MPLKB</text>
<text x="573" y="1300" textLength="47" lengthAdjust="spacing">锁紧套</text>
</g>

<rect x="814" y="1003" width="203" height="33" fill="#fff" stroke="#777" stroke-width="1.5"/>
<text class="f" x="915.5" y="1027" font-size="18" font-weight="bold" fill="#222" text-anchor="middle">卡轮方式</text>
<g fill="#222">
<circle cx="821" cy="1054" r="5.5"/><circle cx="821" cy="1102" r="5.5"/><circle cx="821" cy="1127" r="5.5"/><circle cx="821" cy="1176" r="5.5"/>
</g>
<g class="f" font-size="18" fill="#222">
<text x="830.6" y="1061" textLength="461.5" lengthAdjust="spacing">碟形弹簧、内部滚轮以及卡轮的组合，能使模具的</text>
<text x="830.6" y="1085" textLength="221" lengthAdjust="spacing">开合具有良好的平衡性。</text>
<text x="830.6" y="1109" textLength="384" lengthAdjust="spacing">滚轮的旋转能较好地防止偏心磨损的发生。</text>
<text x="830.6" y="1134" textLength="461.5" lengthAdjust="spacing">锁紧套为上下对称式，所以若有磨损也可倒置安装</text>
<text x="830.6" y="1158" textLength="119.6" lengthAdjust="spacing">以再次使用。</text>
<text x="830.6" y="1183" textLength="461.5" lengthAdjust="spacing">锁紧座的安装面设有避空位，可避免因模板上有微</text>
<text x="830.6" y="1207" textLength="302" lengthAdjust="spacing">小台阶而引发的磕碰等不良现象。</text>
</g>

<!-- ============ STRUCTURE ============ -->
<rect x="77" y="1328" width="18" height="17" fill="#111"/>
<text class="f" x="100" y="1346" font-size="22" font-weight="bold" fill="#111" textLength="170" lengthAdjust="spacing">构造及安装方法</text>

<g transform="matrix(0.9884,0,0,1,0.87,0)">
<g fill="#e6e7e8" stroke="#222" stroke-width="1.4" stroke-linejoin="round">
<path d="M308,1412 H463 V1478 H446 L436,1488 V1572 H335 V1488 L325,1478 H308 Z"/>
<path d="M271,1484 H328 Q334,1523 328,1562 H271 Z"/>
<path d="M500,1484 H443 Q437,1523 443,1562 H500 Z"/>
<rect x="360" y="1408" width="51" height="8"/>
<rect x="364" y="1416" width="43" height="19"/>
<rect x="364" y="1435" width="43" height="45" fill="#dcdcdc"/>
<rect x="366" y="1480" width="39" height="10"/>
<circle cx="374" cy="1503" r="12.5"/>
<circle cx="398" cy="1503" r="12.5"/>
<circle cx="355" cy="1523" r="20"/>
<circle cx="351" cy="1522" r="20"/>
<circle cx="424" cy="1523" r="20"/>
<circle cx="420" cy="1522" r="20"/>
<circle cx="335" cy="1442" r="14" fill="#fff"/>
<circle cx="436" cy="1442" r="14" fill="#fff"/>
<circle cx="303" cy="1522" r="14" fill="#fff"/>
<circle cx="468" cy="1522" r="14" fill="#fff"/>
</g>
<g stroke="#333" stroke-width="0.7">
<line x1="364" y1="1435" x2="407" y2="1480"/><line x1="407" y1="1435" x2="364" y2="1480"/>
</g>
<path class="h" d="M380,1409 V1425 M391,1409 V1425 M370,1437 V1478 M401,1437 V1478"/>
<g class="d">
<line x1="368" y1="1511" x2="380" y2="1495" marker-start="url(#as)" marker-end="url(#as)"/>
<line x1="392" y1="1495" x2="404" y2="1511" marker-start="url(#as)" marker-end="url(#as)"/>
<line x1="337" y1="1522" x2="365" y2="1522" marker-start="url(#as)" marker-end="url(#as)"/>
<line x1="406" y1="1522" x2="434" y2="1522" marker-start="url(#as)" marker-end="url(#as)"/>
</g>
<g class="c">
<line x1="386" y1="1400" x2="386" y2="1582"/>
<line x1="278" y1="1522" x2="498" y2="1522"/>
<line x1="316" y1="1442" x2="354" y2="1442"/><line x1="335" y1="1423" x2="335" y2="1461"/>
<line x1="417" y1="1442" x2="455" y2="1442"/><line x1="436" y1="1423" x2="436" y2="1461"/>
<line x1="303" y1="1503" x2="303" y2="1541"/><line x1="468" y1="1503" x2="468" y2="1541"/>
</g>
<g class="ld">
<path d="M278,1389 H357 L373,1415"/>
<path d="M490,1391 H434 L423,1423"/>
<path d="M226,1439 H296 L369,1497"/>
<path d="M520,1446 H481 L407,1470"/>
<path d="M244,1604 H301 L319,1553"/>
<path d="M420,1602 H380 L357,1533"/>
</g>
<g class="f" font-size="15" fill="#222">
<text x="281" y="1387" textLength="65" lengthAdjust="spacing">调整螺栓</text>
<text x="441" y="1388" textLength="47" lengthAdjust="spacing">锁紧座</text>
<text x="229" y="1437" textLength="63" lengthAdjust="spacing">内部滚轮</text>
<text x="486" y="1443" textLength="29" lengthAdjust="spacing">弹簧</text>
<text x="249" y="1600" textLength="47" lengthAdjust="spacing">锁紧套</text>
<text x="384" y="1600" textLength="32" lengthAdjust="spacing">卡轮</text>
<text x="696" y="1438" textLength="66" lengthAdjust="spacing">定模模板</text>
<text x="714" y="1490" textLength="48" lengthAdjust="spacing">分型面</text>
<text x="696" y="1543" textLength="66" lengthAdjust="spacing">动模模板</text>
<text x="581" y="1588" textLength="86" lengthAdjust="spacing">避空位(0.8)</text>
<text x="443" y="1668" textLength="155" lengthAdjust="spacing">请平行于分型面安装。</text>
<text x="443" y="1698" textLength="170" lengthAdjust="spacing">请按箭头方向将其取出。</text>
</g>
<circle cx="437" cy="1662" r="4" fill="#222"/>
<circle cx="437" cy="1692" r="4" fill="#222"/>

<g clip-path="url(#cu)" stroke="#333" stroke-width="0.8">
<line x1="634" y1="1225" x2="689" y2="1282"/><line x1="634" y1="1245" x2="689" y2="1302"/>
<line x1="634" y1="1265" x2="689" y2="1322"/><line x1="634" y1="1285" x2="689" y2="1342"/>
<line x1="634" y1="1305" x2="689" y2="1362"/><line x1="634" y1="1325" x2="689" y2="1382"/>
<line x1="634" y1="1345" x2="689" y2="1402"/><line x1="634" y1="1365" x2="689" y2="1422"/>
<line x1="634" y1="1385" x2="689" y2="1442"/><line x1="634" y1="1405" x2="689" y2="1462"/>
<line x1="634" y1="1425" x2="689" y2="1482"/>
</g>
<g clip-path="url(#cl)" stroke="#333" stroke-width="0.8">
<line x1="634" y1="1539" x2="689" y2="1482"/><line x1="634" y1="1559" x2="689" y2="1502"/>
<line x1="634" y1="1579" x2="689" y2="1522"/><line x1="634" y1="1599" x2="689" y2="1542"/>
<line x1="634" y1="1619" x2="689" y2="1562"/><line x1="634" y1="1639" x2="689" y2="1582"/>
<line x1="634" y1="1659" x2="689" y2="1602"/><line x1="634" y1="1679" x2="689" y2="1622"/>
</g>
<line x1="634" y1="1358" x2="634" y2="1625" stroke="#111" stroke-width="2"/>
<line x1="634" y1="1482" x2="703" y2="1482" stroke="#111" stroke-width="2"/>
<rect class="o" x="566" y="1409" width="65" height="63"/>
<rect class="o" x="566" y="1472" width="65" height="10"/>
<rect class="o" x="544" y="1482" width="87" height="80"/>
<rect class="o" x="566" y="1562" width="65" height="10"/>
<path class="h" d="M566,1419 H598 V1463 H566 M598,1425 H631 M598,1455 H631 M545,1499 H572 V1544 H545 M572,1507 H631 M572,1536 H631"/>
<line class="c" x1="558" y1="1441" x2="640" y2="1441"/>
<line class="c" x1="540" y1="1522" x2="640" y2="1522"/>
<polygon points="522,1534 530,1527 530,1531 540,1531 540,1537 530,1537 530,1541" fill="#fff" stroke="#111" stroke-width="1.2"/>
<line x1="536" y1="1590" x2="633" y2="1590" class="e"/>
<line x1="631" y1="1572" x2="631" y2="1595" class="e"/>
</g>

<!-- load section -->
<rect x="812" y="1335" width="253" height="33" fill="#fff" stroke="#777" stroke-width="1.5"/>
<text class="f" x="937.5" y="1360" font-size="18" font-weight="bold" fill="#222" text-anchor="middle">负载的调整及其特性</text>
<g fill="#222">
<circle cx="820.8" cy="1389" r="5.5"/><circle cx="820.8" cy="1437" r="5.5"/>
</g>
<use href="#wi" x="845.5" y="1436"/>
<use href="#wi" x="845.5" y="1532"/>
<g class="f" font-size="18" fill="#222">
<text x="836.6" y="1396" textLength="459.6" lengthAdjust="spacing">松开<tspan fill="#e4007f">固定螺钉</tspan>。用六角扳手对卡轮式锁模组件的开</text>
<text x="836.6" y="1419" textLength="402" lengthAdjust="spacing">合力进行调整。完全拧紧螺栓时为最大负载。</text>
<text x="858.3" y="1444" textLength="438" lengthAdjust="spacing">在未拧松<tspan fill="#e4007f">固定螺钉</tspan>时，强行旋转调整螺栓，会导致</text>
<text x="836.6" y="1468" textLength="459.6" lengthAdjust="spacing">调整螺栓螺牙破损，致使组件失效！旋转调整螺栓对</text>
<text x="836.6" y="1493" textLength="459.6" lengthAdjust="spacing">负载进行调整后，为避免调整螺栓松动，请务必拧紧</text>
<text x="836.6" y="1517" textLength="99" lengthAdjust="spacing"><tspan fill="#e4007f">固定螺钉</tspan>。</text>
<text x="858.3" y="1540" textLength="438" lengthAdjust="spacing">为使其在运动时具有良好的平衡性，请在模具的</text>
<text x="858.3" y="1564" textLength="261" lengthAdjust="spacing">对称位置上成对安装该产品。</text>
</g>
</svg>
</body></html>
